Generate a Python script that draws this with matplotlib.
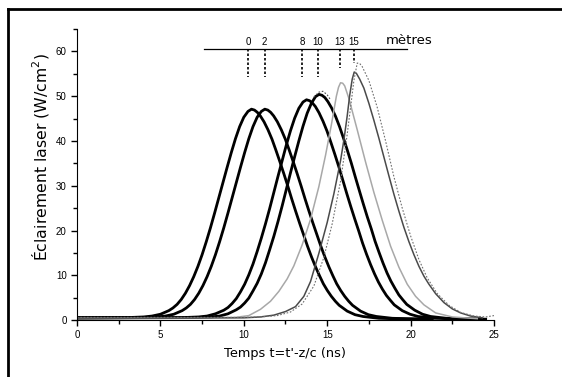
import matplotlib
matplotlib.use("Agg")
import matplotlib.pyplot as plt
from matplotlib.lines import Line2D
from matplotlib.ticker import MultipleLocator

plt.rcParams['font.family'] = ['Liberation Sans', 'DejaVu Sans']
plt.rcParams['mathtext.default'] = 'regular'

# pulse at z = 0 m
t0 = [0, 3.0, 4.0, 4.5, 5.0, 5.5, 5.75, 6.0, 6.25, 6.5, 6.75, 7.0, 7.25, 7.5, 7.75, 8.0,
      8.25, 8.5, 8.75, 9.0, 9.25, 9.5, 9.75, 10.0, 10.25, 10.46, 10.64, 10.81, 10.99,
      11.21, 11.45, 11.69, 11.92, 12.16, 12.4, 12.64, 12.87, 13.11, 13.35, 13.59, 13.82,
      14.06, 14.3, 14.54, 14.77, 15.01, 15.25, 15.49, 15.72, 16.2, 16.67, 17.15, 18.1,
      19.0, 20.5]
y0 = [0.5, 0.55, 0.7, 0.9, 1.3, 2.1, 2.7, 3.5, 4.6, 6.0, 7.7, 9.7, 12.0, 14.6, 17.5, 20.6,
      23.9, 27.3, 30.7, 34.1, 37.4, 40.5, 43.2, 45.3, 46.6, 47.1, 46.9, 46.4, 45.6,
      44.3, 42.5, 40.4, 38.0, 35.4, 32.7, 29.9, 27.1, 24.3, 21.6, 19.0, 16.5,
      14.1, 11.9, 9.9, 8.1, 6.6, 5.3, 4.2, 3.3, 2.0, 1.2, 0.8, 0.4,
      0.3, 0.2]

# z = 2 m
t2 = [0, 3.8, 4.8, 5.3, 5.8, 6.3, 6.55, 6.8, 7.05, 7.3, 7.55, 7.8, 8.05, 8.3, 8.55, 8.8,
      9.05, 9.3, 9.55, 9.8, 10.05, 10.3, 10.55, 10.8, 11.05, 11.26, 11.44, 11.61, 11.79,
      12.01, 12.25, 12.49, 12.72, 12.96, 13.2, 13.44, 13.67, 13.91, 14.15, 14.39, 14.62,
      14.86, 15.1, 15.34, 15.57, 15.81, 16.05, 16.29, 16.52, 17.0, 17.47, 17.95, 18.9,
      19.8, 21.3]
y2 = [0.5, 0.55, 0.7, 0.9, 1.3, 2.1, 2.7, 3.5, 4.6, 6.0, 7.7, 9.7, 12.0, 14.6, 17.5, 20.6,
      23.9, 27.3, 30.7, 34.1, 37.4, 40.5, 43.2, 45.3, 46.6, 47.1, 46.9, 46.4, 45.6,
      44.3, 42.5, 40.4, 38.0, 35.4, 32.7, 29.9, 27.1, 24.3, 21.6, 19.0, 16.5,
      14.1, 11.9, 9.9, 8.1, 6.6, 5.3, 4.2, 3.3, 2.0, 1.2, 0.8, 0.4,
      0.3, 0.2]

# z = 8 m
t8 = [0, 6.3, 7.3, 7.8, 8.3, 8.8, 9.05, 9.3, 9.55, 9.8, 10.05, 10.3, 10.55, 10.8, 11.05,
      11.3, 11.55, 11.8, 12.05, 12.3, 12.55, 12.8, 13.05, 13.3, 13.55, 13.76, 13.94, 14.11,
      14.29, 14.51, 14.75, 14.99, 15.22, 15.46, 15.7, 15.94, 16.17, 16.41, 16.65, 16.89,
      17.12, 17.36, 17.6, 17.84, 18.07, 18.31, 18.55, 18.79, 19.02, 19.5, 19.97, 20.45,
      21.4, 22.3, 23.8]
y8 = [0.5, 0.55, 0.7, 0.9, 1.4, 2.2, 2.8, 3.7, 4.8, 6.3, 8.0, 10.1, 12.5, 15.3, 18.3,
      21.5, 24.9, 28.5, 32.1, 35.6, 39.1, 42.3, 45.1, 47.3, 48.7, 49.2, 49.0, 48.5,
      47.7, 46.3, 44.4, 42.2, 39.7, 37.0, 34.2, 31.2, 28.3, 25.4, 22.6, 19.9,
      17.2, 14.7, 12.4, 10.3, 8.5, 6.9, 5.5, 4.4, 3.4, 2.1, 1.3, 0.8,
      0.4, 0.3, 0.2]

# z = 10 m
t10 = [0, 7.05, 8.05, 8.55, 9.05, 9.55, 9.8, 10.05, 10.3, 10.55, 10.8, 11.05, 11.3, 11.55,
       11.8, 12.05, 12.3, 12.55, 12.8, 13.05, 13.3, 13.55, 13.8, 14.05, 14.3, 14.51, 14.69,
       14.86, 15.04, 15.26, 15.5, 15.74, 15.97, 16.21, 16.45, 16.69, 16.92, 17.16, 17.4,
       17.64, 17.87, 18.11, 18.35, 18.59, 18.82, 19.06, 19.3, 19.54, 19.77, 20.25, 20.72,
       21.2, 22.15, 23.05, 24.5]
y10 = [0.5, 0.55, 0.7, 0.9, 1.4, 2.3, 2.9, 3.8, 4.9, 6.5, 8.2, 10.3, 12.8, 15.7,
       18.7, 22.0, 25.5, 29.2, 32.9, 36.5, 40.0, 43.3, 46.2, 48.4, 49.9, 50.4, 50.2,
       49.7, 48.8, 47.4, 45.5, 43.2, 40.7, 37.9, 35.0, 31.9, 29.0, 26.0, 23.1,
       20.4, 17.6, 15.1, 12.7, 10.5, 8.7, 7.1, 5.6, 4.5, 3.5, 2.2, 1.3,
       0.8, 0.4, 0.3, 0.2]

# z = 13 m
t13 = [0, 4.0, 8.0, 9.5, 10.3, 11.0, 11.6, 12.1, 12.6, 13.0, 13.5, 14.0, 14.5, 14.9, 15.25,
       15.55, 15.68, 15.8, 15.93, 16.05, 16.3, 16.8, 17.3, 17.8, 18.3, 18.8, 19.3, 19.8,
       20.3, 20.8, 21.5, 22.5, 24.0]
y13 = [0.5, 0.5, 0.5, 0.6, 1.0, 2.4, 4.2, 6.4, 9.2, 12.1, 16.8, 22.5, 29.8, 36.8, 43.6,
       50.0, 52.0, 53.0, 52.9, 52.3, 49.5, 42.5, 35.3, 28.5, 22.3, 16.5, 11.8, 8.0,
       5.3, 3.4, 1.6, 0.7, 0.3]

# z = 15 m
t15 = [0, 4.0, 8.0, 10.0, 11.0, 11.8, 12.5, 13.1, 13.6, 14.0, 14.5, 15.0, 15.4, 15.8, 16.0,
       16.2, 16.35, 16.5, 16.62, 16.75, 16.95, 17.2, 17.5, 17.8, 18.1, 18.4, 18.7, 19.0,
       19.3, 19.6, 19.9, 20.2, 20.5, 20.8, 21.1, 21.5, 22.0, 22.5, 23.0, 23.6, 24.3]
y15 = [0.5, 0.5, 0.5, 0.5, 0.7, 1.1, 1.9, 3.0, 5.3, 8.6, 14.9, 21.8, 28.2, 35.6, 40.2,
       45.6, 50.2, 53.8, 55.4, 55.1, 53.8, 51.8, 48.4, 44.6, 40.6, 36.4, 32.2, 28.1,
       24.3, 20.7, 17.5, 14.6, 12.0, 9.8, 8.0, 5.9, 3.9, 2.5, 1.6, 0.9, 0.5]

# thin dotted trace
tdot = [0, 4, 8, 10, 11, 12, 12.8, 13.5, 14.2, 14.8, 15.3, 15.8, 16.2, 16.4, 16.6, 16.8,
        16.95, 17.1, 17.5, 18.0, 18.5, 19.0, 19.5, 20.0, 20.5, 21.0, 21.6, 22.3, 23.0, 23.8,
        24.5, 25.0]
ydot = [0.6, 0.6, 0.6, 0.6, 0.7, 1.0, 1.8, 3.6, 7.6, 14.0, 21.5, 31.0, 41.5, 47.5, 53.5, 57.4,
        57.3, 56.6, 53.5, 47.5, 40.0, 32.0, 25.0, 18.8, 13.5, 9.4, 5.9, 3.3, 1.7, 0.9,
        0.7, 1.0]
tbump = [14.2, 14.5, 14.75, 15.0, 15.2]
ybump = [49.8, 50.9, 51.1, 50.3, 49.2]

# distance markers (metres) on the top scale
mark_t = [10.25, 11.25, 13.5, 14.45, 15.75, 16.6]
mark_lab = ['0', '2', '8', '10', '13', '15']
mark_low = [54.3, 54.3, 54.3, 54.3, 56.2, 57.4]

fig = plt.figure(figsize=(5.62, 3.77), dpi=100)
ax = fig.add_axes([0.137, 0.151, 0.742, 0.772])

for t, y in [(t0, y0), (t2, y2), (t8, y8), (t10, y10)]:
    ax.plot(t, y, color='black', lw=2.0, solid_joinstyle='round')
ax.plot(t13, y13, color='#a8a8a8', lw=1.1)
ax.plot(t15, y15, color='#4a4a4a', lw=1.1)
ax.plot(tdot, ydot, color='#707070', lw=0.8, ls=(0, (1.5, 1.5)))
ax.plot(tbump, ybump, color='#505050', lw=0.8, ls=(0, (1.5, 1.5)))

# top scale
ax.plot([7.6, 19.8], [60.6, 60.6], color='black', lw=0.9, clip_on=False)
for t, lab, lo in zip(mark_t, mark_lab, mark_low):
    ax.plot([t, t], [60.6, lo], color='black', lw=1.2, ls=(0, (1.5, 1.2)))
    ax.text(t, 62.2, lab, ha='center', va='center', fontsize=7)
ax.text(18.5, 62.4, 'mètres', ha='left', va='center', fontsize=9.5,
        family='DejaVu Sans')

ax.set_xlim(0, 25)
ax.set_ylim(0, 65)
ax.spines['top'].set_visible(False)
ax.spines['right'].set_visible(False)
ax.xaxis.set_major_locator(MultipleLocator(5))
ax.xaxis.set_minor_locator(MultipleLocator(2.5))
ax.yaxis.set_major_locator(MultipleLocator(10))
ax.yaxis.set_minor_locator(MultipleLocator(5))
ax.tick_params(axis='both', which='major', labelsize=7, width=1, length=4)
ax.tick_params(axis='both', which='minor', width=1, length=3)
ax.set_xlabel("Temps t=t'-z/c (ns)", fontsize=9.3, labelpad=4.5, family='DejaVu Sans')
ax.set_ylabel('Éclairement laser (W/cm$^2$)', fontsize=11.3, family='DejaVu Sans')
ax.yaxis.set_label_coords(-0.062, 0.56)

# scanned page frame
fig.add_artist(Line2D([8 / 562, 8 / 562], [0, 1 - 9 / 377], color='black', lw=2))
fig.add_artist(Line2D([8 / 562, 1], [1 - 9 / 377, 1 - 9 / 377], color='black', lw=2))

fig.savefig('out.png', dpi=100)
